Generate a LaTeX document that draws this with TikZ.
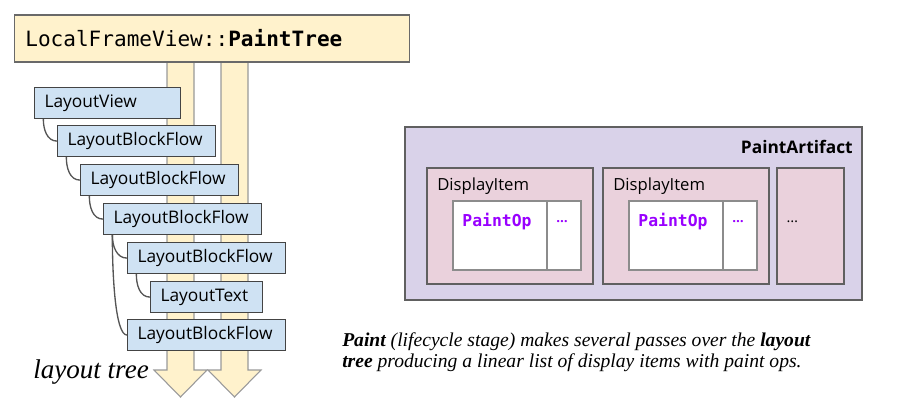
\documentclass[tikz,border=0pt]{standalone}
\usepackage{fontspec}
\setmainfont{Open Sans}
\newfontfamily\codefont{DejaVu Sans Mono}
\newfontfamily\notefont{Liberation Serif}
\usetikzlibrary{positioning}
\definecolor{paintyellow}{HTML}{FFF2CC}
\definecolor{layoutblue}{HTML}{CFE2F3}
\definecolor{artifactlilac}{HTML}{D9D2E9}
\definecolor{itempink}{HTML}{EAD1DC}
\definecolor{oppurple}{HTML}{9900FF}
\definecolor{boxline}{HTML}{444444}
\definecolor{treeline}{HTML}{555555}
\tikzset{
  framebox/.style={draw=boxline!80, fill=paintyellow, line width=0.9pt, minimum height=35.25pt,
    text width=280pt, inner xsep=8.25pt, align=left, font=\codefont\fontsize{15.8}{18}\selectfont},
  passarrow/.style={draw=black!40, fill=paintyellow, line width=0.8pt},
  layoutbox/.style={draw=boxline, fill=layoutblue, line width=0.9pt, anchor=north west,
    minimum height=23.25pt, inner xsep=7.5pt, text width=#1, align=left, font=\fontsize{13}{15}\selectfont},
  layoutbox/.default=103.5pt,
  treeedge/.style={draw=treeline, line width=1pt},
  artifactbox/.style={draw=boxline!85, fill=artifactlilac, line width=0.9pt},
  itembox/.style={draw=boxline!85, fill=itempink, line width=1.2pt, minimum height=87pt},
  opbox/.style={draw=black!45, fill=white, line width=0.8pt, minimum height=51.75pt},
  optext/.style={text=oppurple, font=\codefont\bfseries\fontsize{12.3}{14}\selectfont},
  notetext/.style={font=\notefont\itshape\fontsize{14.7}{15.75}\selectfont, align=left, anchor=north west, inner sep=0pt}
}
\begin{document}
\begin{tikzpicture}[x=0.75pt,y=-0.75pt]
\useasboundingbox (0,0) rectangle (898,407);
% the two paint passes
\foreach \cx in {180.5,234.5}
  \draw[passarrow] ({\cx-13.5},58) -- ({\cx+13.5},58) -- ({\cx+13.5},370) -- ({\cx+26.5},370)
    -- (\cx,397) -- ({\cx-26.5},370) -- ({\cx-13.5},370) -- cycle;
\node[framebox] (painttree) at (212,38.5) {LocalFrameView::\textbf{PaintTree}};
% layout tree
\node[layoutbox=94.5pt] (lv) at (34,87) {LayoutView};
\node[layoutbox] (lbfa) at (57,125) {LayoutBlockFlow};
\node[layoutbox] (lbfb) at (80,164) {LayoutBlockFlow};
\node[layoutbox] (lbfc) at (103,203) {LayoutBlockFlow};
\node[layoutbox] (lbfd) at (127,242) {LayoutBlockFlow};
\node[layoutbox=69pt] (ltext) at (150,281) {LayoutText};
\node[layoutbox] (lbfe) at (127,319) {LayoutBlockFlow};
\foreach \p/\c/\l in {lv/lbfa/1,lbfa/lbfb/1,lbfb/lbfc/1,lbfc/lbfd/1,lbfd/ltext/1,lbfc/lbfe/0.3}
  \draw[treeedge] ([xshift=7pt]\p.south west) to[out=-90,in=180,in looseness=\l] (\c.west);
\node[font=\notefont\itshape\fontsize{20.3}{22}\selectfont, anchor=base west, inner sep=0pt] (treelabel) at (33,378) {layout tree};
% paint artifact
\node[artifactbox, minimum width=342.75pt, minimum height=129.75pt] (artifact) at (633.5,213.5) {};
\node[anchor=base east, inner sep=0pt, font=\bfseries\fontsize{13}{15}\selectfont] (artifactlabel) at (853,153) {PaintArtifact};
\node[itembox, minimum width=124.5pt] (itema) at (510,226) {};
\node[itembox, minimum width=124.5pt] (itemb) at (686,226) {};
\node[itembox, minimum width=50.25pt] (itemc) at (810.5,226) {};
\node[anchor=base west, inner sep=0pt, font=\fontsize{12.5}{14}\selectfont] (itemalabel) at (437,190) {DisplayItem};
\node[anchor=base west, inner sep=0pt, font=\fontsize{12.5}{14}\selectfont] (itemblabel) at (613,190) {DisplayItem};
\node[opbox, minimum width=70.5pt] (opa) at (500,235.5) {};
\node[opbox, minimum width=25.5pt] (morea) at (564,235.5) {};
\node[opbox, minimum width=70.5pt] (opb) at (676,235.5) {};
\node[opbox, minimum width=25.5pt] (moreb) at (740,235.5) {};
\node[optext] (opatext) at (497,222) {PaintOp};
\node[optext] (opbtext) at (673,222) {PaintOp};
\node[text=oppurple, font=\bfseries\fontsize{10}{12}\selectfont] (moreatext) at (562,222) {…};
\node[text=oppurple, font=\bfseries\fontsize{10}{12}\selectfont] (morebtext) at (738,222) {…};
\node[anchor=west, font=\fontsize{11}{12}\selectfont] (itemctext) at (782,222) {…};
% caption
\node[notetext] (caption) at (342,332) {\textbf{Paint} (lifecycle stage) makes several passes over the \textbf{layout}\\
\textbf{tree} producing a linear list of display items with paint ops.};
\end{tikzpicture}
\end{document}
